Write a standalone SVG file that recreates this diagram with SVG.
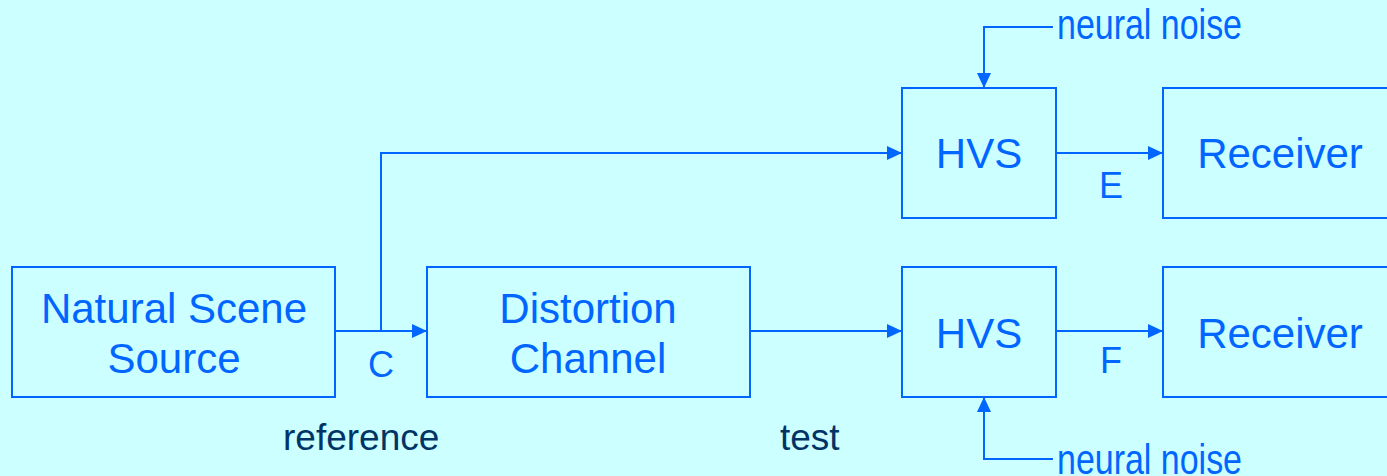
<svg xmlns="http://www.w3.org/2000/svg" width="1387" height="476" viewBox="0 0 1387 476">
  <style>
    .box { fill: none; stroke: #0066FF; stroke-width: 2; }
    .wire { fill: none; stroke: #0066FF; stroke-width: 2; }
    .lbl { font-family: "Liberation Sans", Arial, sans-serif; fill: #0066FF; font-size: 42px; text-anchor: middle; }
    .sig { font-family: "Liberation Sans", Arial, sans-serif; fill: #0066FF; font-size: 36px; text-anchor: middle; }
    .noise { font-family: "Liberation Sans", Arial, sans-serif; fill: #0066FF; font-size: 42px; }
    .note { font-family: "Liberation Sans", Arial, sans-serif; fill: #003366; font-size: 37px; }
  </style>
  <defs>
    <marker id="arrow" viewBox="0 0 15 14" refX="15" refY="7" markerWidth="15" markerHeight="14" markerUnits="userSpaceOnUse" orient="auto">
      <path d="M0,0 L15,7 L0,14 Z" fill="#0066FF"/>
    </marker>
  </defs>

  <rect x="0" y="0" width="1387" height="476" fill="#CCFFFF"/>

  <!-- blocks -->
  <g id="source">
    <rect class="box" x="12" y="267" width="323" height="130"/>
    <text class="lbl" x="174" y="323">Natural Scene</text>
    <text class="lbl" x="174" y="373">Source</text>
  </g>
  <g id="channel">
    <rect class="box" x="427" y="267" width="323" height="130"/>
    <text class="lbl" x="588" y="323">Distortion</text>
    <text class="lbl" x="588" y="373">Channel</text>
  </g>
  <g id="hvs-ref">
    <rect class="box" x="902" y="88" width="154" height="130"/>
    <text class="lbl" x="979" y="168">HVS</text>
  </g>
  <g id="hvs-test">
    <rect class="box" x="902" y="267" width="154" height="130"/>
    <text class="lbl" x="979" y="348">HVS</text>
  </g>
  <g id="receiver-ref">
    <rect class="box" x="1163" y="88" width="234" height="130"/>
    <text class="lbl" x="1280" y="168">Receiver</text>
  </g>
  <g id="receiver-test">
    <rect class="box" x="1163" y="267" width="234" height="130"/>
    <text class="lbl" x="1280" y="348">Receiver</text>
  </g>

  <!-- connectors -->
  <g id="connectors">
    <path class="wire" d="M335,331 H427" marker-end="url(#arrow)"/>
    <path class="wire" d="M381,331 V153 H902" marker-end="url(#arrow)"/>
    <path class="wire" d="M750,331 H902" marker-end="url(#arrow)"/>
    <path class="wire" d="M1056,153 H1163" marker-end="url(#arrow)"/>
    <path class="wire" d="M1056,331 H1163" marker-end="url(#arrow)"/>
    <path class="wire" d="M1053,27 H984 V88" marker-end="url(#arrow)"/>
    <path class="wire" d="M1053,459 H984 V397" marker-end="url(#arrow)"/>
  </g>

  <!-- signal labels -->
  <text class="sig" x="381" y="377">C</text>
  <text class="sig" x="1111" y="198">E</text>
  <text class="sig" x="1111" y="373">F</text>
  <text class="noise" x="1057" y="39" textLength="185" lengthAdjust="spacingAndGlyphs">neural noise</text>
  <text class="noise" x="1057" y="474" textLength="185" lengthAdjust="spacingAndGlyphs">neural noise</text>
  <text class="note" x="283" y="450">reference</text>
  <text class="note" x="780" y="450">test</text>
</svg>
